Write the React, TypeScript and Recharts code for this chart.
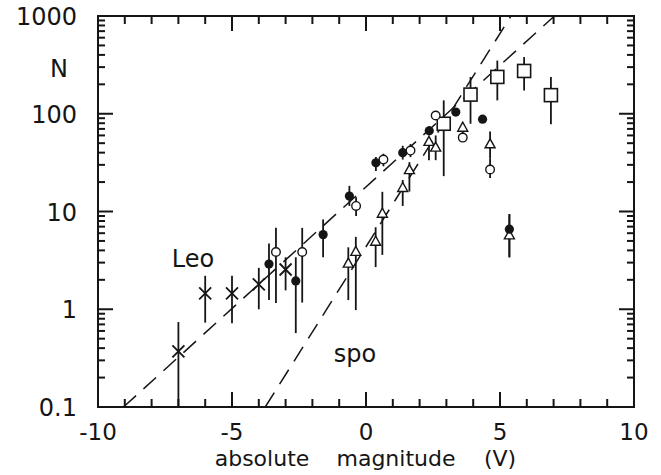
import React from "react";
import {
  ScatterChart,
  Scatter,
  XAxis,
  YAxis,
  ErrorBar,
  ReferenceLine,
  ReferenceArea,
} from "recharts";

const W = 661;
const H = 475;
const LEFT = 98;
const TOP = 16;
const RIGHT = 27;
const BOTTOM = 68;
const PLOT_R = W - RIGHT;
const PLOT_B = H - BOTTOM;
const INK = "#151515";
const FONT = "'DejaVu Sans', sans-serif";

// axis ticks / labels
const xTicks = [-10, -9, -8, -7, -6, -5, -4, -3, -2, -1, 0, 1, 2, 3, 4, 5, 6, 7, 8, 9, 10];
const xLabelValues = [-10, -5, 0, 5, 10];
const xLabels = ["-10", "-5", "0", "5", "10"];
const yDecades = [0.1, 1, 10, 100];
const yLabelValues = [0.1, 1, 10, 100, 1000];
const yLabels = ["0.1", "1", "10", "100", "1000"];
const yTicks: number[] = [];
yDecades.forEach((d) => {
  for (let k = 1; k <= 9; k++) yTicks.push(Number((d * k).toPrecision(3)));
});
yTicks.push(1000);

// crosses (Leo)
const crossX = [-7.0, -6.0, -5.0, -4.0, -3.0];
const crossY = [0.37, 1.45, 1.45, 1.8, 2.55];
const crossLo = [0.1, 0.73, 0.72, 1.0, 1.56];
const crossHi = [0.74, 2.2, 2.2, 2.65, 3.4];

// filled circles
const dotX = [-3.62, -2.62, -1.6, -0.62, 0.37, 1.37, 2.36, 3.35, 4.35, 5.35];
const dotY = [2.9, 1.95, 5.8, 14.4, 31.5, 40, 67, 104, 88, 6.6];
const dotLo = [1.24, 0.57, 3.4, 11.4, 26, 34, 60, 98, 82, 3.4];
const dotHi = [4.7, 3.4, 8.3, 18.3, 36, 47, 75, 110, 96, 9.4];

// open circles
const ringX = [-3.36, -2.38, -0.37, 0.65, 1.66, 2.6, 3.61, 4.63];
const ringY = [3.85, 3.85, 11.4, 34, 42, 96, 57, 26.9];
const ringLo = [1.16, 1.17, 9.0, 29, 36, 88, 52, 22];
const ringHi = [6.8, 6.8, 14, 39, 49, 104, 63, 35];

// open triangles
const triX = [-0.66, -0.38, 0.36, 0.61, 1.37, 1.62, 2.35, 2.6, 3.61, 4.63, 5.35];
const triY = [2.93, 3.86, 4.9, 9.5, 17.4, 26.5, 51.5, 45, 72, 48.7, 5.7];
const triLo = [1.24, 0.98, 2.7, 3.6, 11.4, 16, 33.5, 33.5, 63, 35, 3.4];
const triHi = [4.3, 5.5, 6.9, 15.9, 21, 32, 58, 60, 80, 66, 9.4];

// open squares
const boxX = [2.9, 3.9, 4.9, 5.9, 6.9];
const boxY = [79, 157, 238, 274, 155];
const boxLo = [23, 79, 137, 173, 78];
const boxHi = [137, 238, 350, 380, 238];

// dashed fit lines (end points)
const leoLine = [
  { x: -9.05, y: 0.1 },
  { x: 7.03, y: 1000 },
];
const spoLine = [
  { x: -3.76, y: 0.1 },
  { x: 5.41, y: 1000 },
];

const build = (xs: number[], ys: number[], lo: number[], hi: number[]) =>
  xs.map((x, i) => ({ x, y: ys[i], err: [ys[i] - lo[i], hi[i] - ys[i]] }));

const crossData = build(crossX, crossY, crossLo, crossHi);
const dotData = build(dotX, dotY, dotLo, dotHi);
const ringData = build(ringX, ringY, ringLo, ringHi);
const triData = build(triX, triY, triLo, triHi);
const boxData = build(boxX, boxY, boxLo, boxHi);

const Cross = ({ cx, cy }: any) => (
  <g stroke={INK} strokeWidth={1.8}>
    <line x1={cx - 6} y1={cy - 6} x2={cx + 6} y2={cy + 6} />
    <line x1={cx - 6} y1={cy + 6} x2={cx + 6} y2={cy - 6} />
  </g>
);
const Dot = ({ cx, cy }: any) => <circle cx={cx} cy={cy} r={4.6} fill={INK} />;
const Ring = ({ cx, cy }: any) => (
  <circle cx={cx} cy={cy} r={4.3} fill="#fff" stroke={INK} strokeWidth={1.4} />
);
const Tri = ({ cx, cy }: any) => (
  <polygon
    points={`${cx},${cy - 5.5} ${cx - 5},${cy + 3.5} ${cx + 5},${cy + 3.5}`}
    fill="#fff"
    stroke={INK}
    strokeWidth={1.4}
  />
);
const Box = ({ cx, cy }: any) => (
  <rect x={cx - 6.5} y={cy - 6.5} width={13} height={13} fill="#fff" stroke={INK} strokeWidth={1.6} />
);

const XTick = (props: any) => {
  const { x, payload } = props;
  const v = payload.value;
  const i = xLabelValues.indexOf(v);
  const len = i >= 0 ? 15 : 8;
  return (
    <g>
      <line x1={x} y1={PLOT_B} x2={x} y2={PLOT_B - len} stroke={INK} strokeWidth={2} />
      <line x1={x} y1={TOP} x2={x} y2={TOP + len} stroke={INK} strokeWidth={2} />
      {i >= 0 && (
        <text x={x} y={PLOT_B + 33} textAnchor="middle" fontSize={23} fontFamily={FONT} fill={INK}>
          {xLabels[i]}
        </text>
      )}
    </g>
  );
};

const YTick = (props: any) => {
  const { y, payload } = props;
  const v = payload.value;
  const i = yLabelValues.indexOf(v);
  const len = i >= 0 ? 15 : 7;
  return (
    <g>
      <line x1={LEFT} y1={y} x2={LEFT + len} y2={y} stroke={INK} strokeWidth={2} />
      <line x1={PLOT_R} y1={y} x2={PLOT_R - len} y2={y} stroke={INK} strokeWidth={2} />
      {i >= 0 && (
        <text x={LEFT - 21} y={y + 9} textAnchor="end" fontSize={24} fontFamily={FONT} fill={INK}>
          {yLabels[i]}
        </text>
      )}
    </g>
  );
};

const errProps = { dataKey: "err", direction: "y" as const, width: 0, stroke: INK, strokeWidth: 1.8 };

export default function App() {
  return (
    <div style={{ position: "absolute", left: 0, top: 0, width: W, height: H, background: "#fff" }}>
      <ScatterChart width={W} height={H} margin={{ top: TOP, right: RIGHT, left: 0, bottom: 0 }}>
        <XAxis
          type="number"
          dataKey="x"
          domain={[-10, 10]}
          ticks={xTicks}
          interval={0}
          allowDataOverflow
          height={BOTTOM}
          axisLine={false}
          tickLine={false}
          tickSize={0}
          tickMargin={0}
          tick={<XTick />}
        />
        <YAxis
          type="number"
          dataKey="y"
          scale="log"
          domain={[0.1, 1000]}
          ticks={yTicks}
          interval={0}
          allowDataOverflow
          width={LEFT}
          axisLine={false}
          tickLine={false}
          tickSize={0}
          tickMargin={0}
          tick={<YTick />}
        />
        <ReferenceArea
          x1={-10}
          x2={10}
          y1={0.1}
          y2={1000}
          fill="none"
          fillOpacity={0}
          stroke={INK}
          strokeWidth={2}
          ifOverflow="visible"
        />
        <Scatter data={crossData} isAnimationActive={false} shape={<Cross />}>
          <ErrorBar {...errProps} />
        </Scatter>
        <Scatter data={boxData} isAnimationActive={false} shape={<Box />}>
          <ErrorBar {...errProps} />
        </Scatter>
        <Scatter data={triData} isAnimationActive={false} shape={<Tri />}>
          <ErrorBar {...errProps} />
        </Scatter>
        <Scatter data={ringData} isAnimationActive={false} shape={<Ring />}>
          <ErrorBar {...errProps} />
        </Scatter>
        <Scatter data={dotData} isAnimationActive={false} shape={<Dot />}>
          <ErrorBar {...errProps} />
        </Scatter>
        <ReferenceLine
          segment={leoLine}
          stroke={INK}
          strokeWidth={1.5}
          strokeDasharray="17 10"
          ifOverflow="visible"
        />
        <ReferenceLine
          segment={spoLine}
          stroke={INK}
          strokeWidth={1.5}
          strokeDasharray="17 10"
          ifOverflow="visible"
        />
      </ScatterChart>
      <svg
        width={W}
        height={H}
        style={{ position: "absolute", left: 0, top: 0, pointerEvents: "none" }}
        fontFamily={FONT}
        fill={INK}
      >
        <text x={59} y={77} textAnchor="middle" fontSize={24}>N</text>
        <text x={193} y={267} textAnchor="middle" fontSize={24}>Leo</text>
        <text x={355} y={362} textAnchor="middle" fontSize={24}>spo</text>
        <text x={262} y={466} textAnchor="middle" fontSize={22}>absolute</text>
        <text x={396} y={466} textAnchor="middle" fontSize={22}>magnitude</text>
        <text x={500} y={466} textAnchor="middle" fontSize={22}>(V)</text>
      </svg>
    </div>
  );
}
